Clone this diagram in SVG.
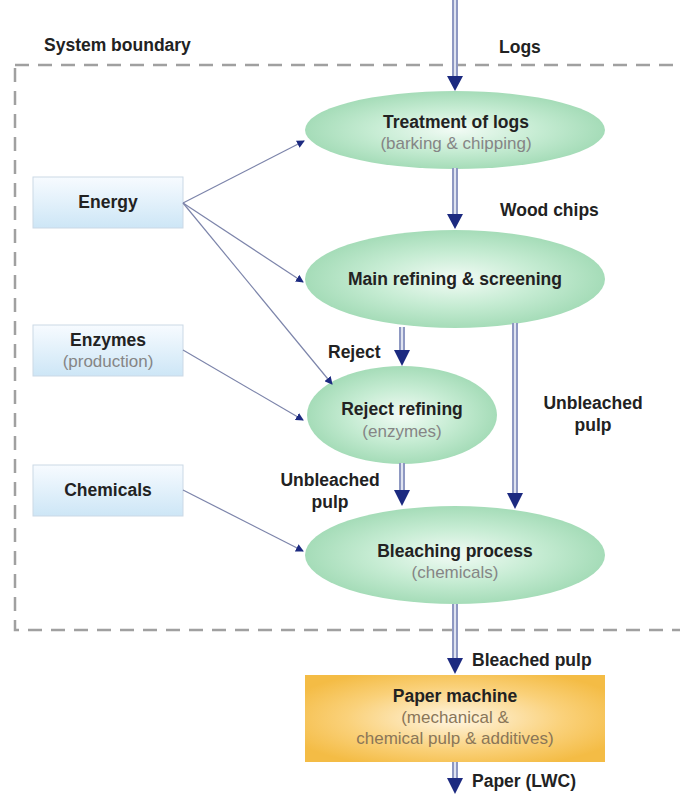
<svg xmlns="http://www.w3.org/2000/svg" width="680" height="794" viewBox="0 0 680 794">
<defs>
<radialGradient id="gEll" cx="50%" cy="50%" r="50%">
<stop offset="0" stop-color="#f2fbf5"/>
<stop offset="0.55" stop-color="#c6ecd3"/>
<stop offset="1" stop-color="#a5dcb8"/>
</radialGradient>
<radialGradient id="gPaper" cx="50%" cy="50%" r="60%">
<stop offset="0" stop-color="#fff6e4"/>
<stop offset="0.6" stop-color="#fad17a"/>
<stop offset="1" stop-color="#f4bc45"/>
</radialGradient>
<linearGradient id="gBox" x1="0" y1="0" x2="0" y2="1">
<stop offset="0" stop-color="#f7fbff"/>
<stop offset="1" stop-color="#cde6f6"/>
</linearGradient>
<marker id="mThin" markerWidth="8" markerHeight="8" refX="7" refY="4" orient="auto" markerUnits="userSpaceOnUse">
<path d="M0,0 L8,4 L0,8 Z" fill="#1c2a80"/>
</marker>
</defs>
<style>
text{font-family:"Liberation Sans",Arial,sans-serif;}
.t{font-size:17.5px;font-weight:bold;fill:#222;text-anchor:middle;}
.s{font-size:17px;fill:#858585;text-anchor:middle;}
.l{font-size:17.5px;font-weight:bold;fill:#222;}
.shaft{stroke:#8e98c2;stroke-width:6;fill:none;}
.core{stroke:#dfe3f0;stroke-width:2;fill:none;}
.head{fill:#1c2a80;}
.thin{stroke:#7c84aa;stroke-width:1.2;fill:none;marker-end:url(#mThin);}
.ell{fill:url(#gEll);}
.box{fill:url(#gBox);stroke:#cbd9e6;stroke-width:1;}
</style>
<rect width="680" height="794" fill="#ffffff"/>

<g id="boundary">
<rect x="15" y="65" width="720" height="565" fill="none" stroke="#a0a0a0" stroke-width="2.5" stroke-dasharray="14,9"/>
<text x="44" y="51" class="l">System boundary</text>
</g>

<g id="n-treatment">
<ellipse cx="455" cy="130" rx="150" ry="39" class="ell"/>
<text x="456" y="128" class="t">Treatment of logs</text>
<text x="456" y="149" class="s">(barking &amp; chipping)</text>
</g>
<g id="n-main">
<ellipse cx="455" cy="279" rx="150" ry="49" class="ell"/>
<text x="455" y="285" class="t">Main refining &amp; screening</text>
</g>
<g id="n-reject">
<ellipse cx="402" cy="415" rx="95" ry="49" class="ell"/>
<text x="402" y="415" class="t">Reject refining</text>
<text x="402" y="437" class="s">(enzymes)</text>
</g>
<g id="n-bleach">
<ellipse cx="455" cy="555" rx="150" ry="49" class="ell"/>
<text x="455" y="557" class="t">Bleaching process</text>
<text x="455" y="578" class="s">(chemicals)</text>
</g>
<g id="n-paper">
<rect x="305" y="675" width="300" height="87" fill="url(#gPaper)"/>
<text x="455" y="702" class="t">Paper machine</text>
<text x="455" y="723" class="s" style="fill:#8a7658">(mechanical &amp;</text>
<text x="455" y="744" class="s" style="fill:#8a7658">chemical pulp &amp; additives)</text>
</g>
<g id="n-energy">
<rect x="33" y="177" width="150" height="51" class="box"/>
<text x="108" y="208" class="t">Energy</text>
</g>
<g id="n-enzymes">
<rect x="33" y="325" width="150" height="51" class="box"/>
<text x="108" y="346" class="t">Enzymes</text>
<text x="108" y="367" class="s">(production)</text>
</g>
<g id="n-chemicals">
<rect x="33" y="465" width="150" height="51" class="box"/>
<text x="108" y="496" class="t">Chemicals</text>
</g>

<g id="connectors">
<line x1="183" y1="203" x2="304" y2="141" class="thin"/>
<line x1="183" y1="203" x2="303" y2="282" class="thin"/>
<line x1="183" y1="203" x2="332" y2="384" class="thin"/>
<line x1="183" y1="350" x2="303" y2="420" class="thin"/>
<line x1="183" y1="490" x2="303" y2="551" class="thin"/>

<line x1="455" y1="0" x2="455" y2="80" class="shaft"/><line x1="455" y1="0" x2="455" y2="80" class="core"/>
<path d="M447,76 L463,76 L455,91 Z" class="head"/>
<line x1="455" y1="168" x2="455" y2="218" class="shaft"/><line x1="455" y1="168" x2="455" y2="218" class="core"/>
<path d="M447,214 L463,214 L455,229 Z" class="head"/>
<line x1="402" y1="327" x2="402" y2="354" class="shaft"/><line x1="402" y1="327" x2="402" y2="354" class="core"/>
<path d="M394,350 L410,350 L402,366 Z" class="head"/>
<line x1="402" y1="463" x2="402" y2="494" class="shaft"/><line x1="402" y1="463" x2="402" y2="494" class="core"/>
<path d="M394,490 L410,490 L402,506 Z" class="head"/>
<line x1="515" y1="323" x2="515" y2="497" class="shaft"/><line x1="515" y1="323" x2="515" y2="497" class="core"/>
<path d="M507,493 L523,493 L515,509 Z" class="head"/>
<line x1="455" y1="604" x2="455" y2="662" class="shaft"/><line x1="455" y1="604" x2="455" y2="662" class="core"/>
<path d="M447,658 L463,658 L455,674 Z" class="head"/>
<line x1="455" y1="762" x2="455" y2="782" class="shaft"/><line x1="455" y1="762" x2="455" y2="782" class="core"/>
<path d="M447,778 L463,778 L455,794 Z" class="head"/>

<text x="499" y="53" class="l">Logs</text>
<text x="500" y="216" class="l">Wood chips</text>
<text x="328" y="358" class="l">Reject</text>
<text x="330" y="486" class="t">Unbleached</text>
<text x="330" y="508" class="t">pulp</text>
<text x="593" y="409" class="t">Unbleached</text>
<text x="593" y="431" class="t">pulp</text>
<text x="472" y="666" class="l">Bleached pulp</text>
<text x="472" y="787" class="l">Paper (LWC)</text>
</g>
</svg>
